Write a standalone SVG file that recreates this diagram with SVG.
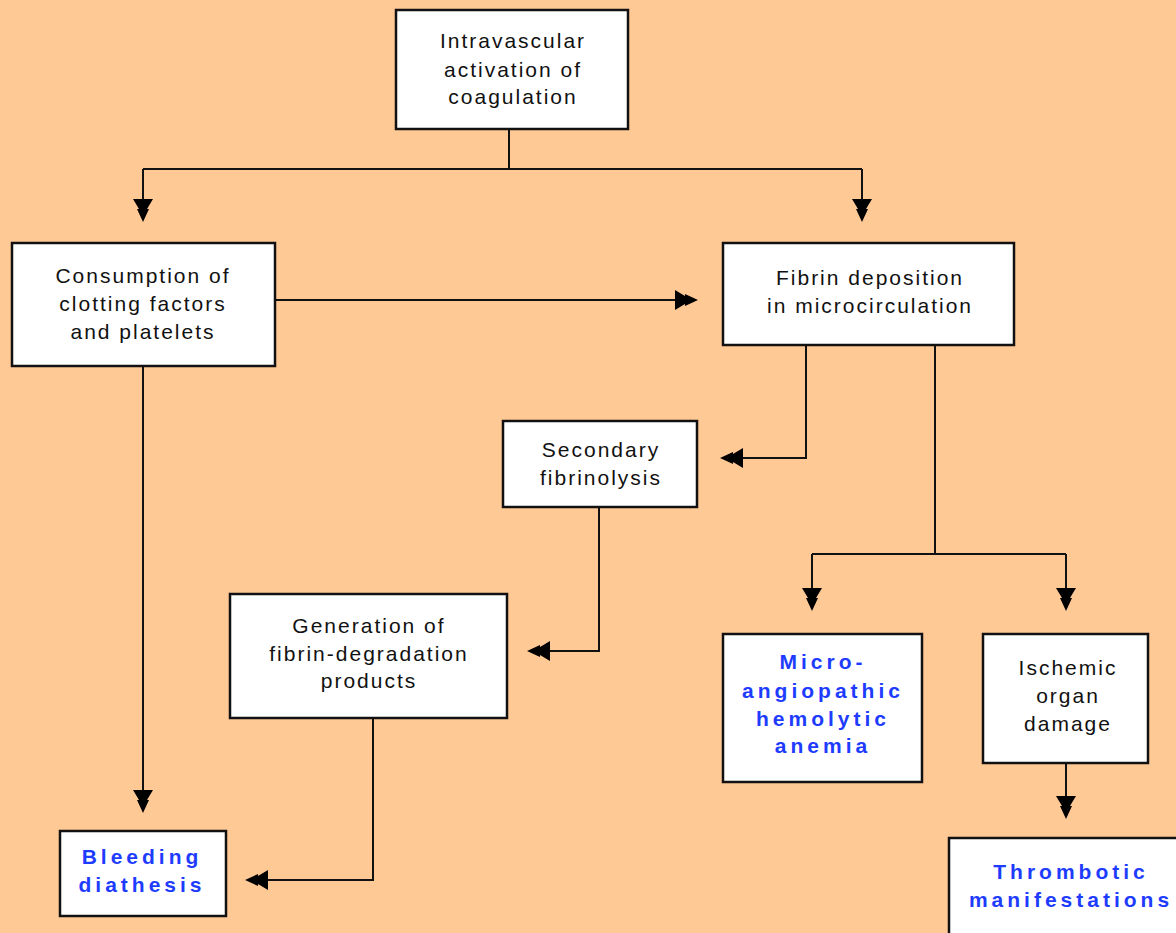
<svg xmlns="http://www.w3.org/2000/svg" width="1176" height="933" viewBox="0 0 1176 933">
<style>
.bg{fill:#FFC996}
.box{fill:#fff;stroke:#111;stroke-width:2.5}
.t{font-family:"Liberation Sans",Arial,sans-serif;font-size:21px;fill:#111;text-anchor:middle;letter-spacing:2px}
.b{font-family:"Liberation Sans",Arial,sans-serif;font-size:21px;font-weight:bold;fill:#1E3CFF;text-anchor:middle;letter-spacing:4px}
.c{fill:none;stroke:#111;stroke-width:2;marker-end:url(#ah)}
.l{fill:none;stroke:#111;stroke-width:2}
</style>
<defs>
<marker id="ah" markerUnits="userSpaceOnUse" viewBox="-22 -11 28 22" refX="0" refY="0" markerWidth="28" markerHeight="22" orient="auto">
<path d="M4,0 L-9,-6 L-9,-4 L-19,-10 L-19,10 L-9,4 L-9,6 Z" fill="#000"/>
</marker>
</defs>
<rect class="bg" x="0" y="0" width="1176" height="933"/>
<g id="connectors">
<path class="l" d="M509,129 V169 M143,169 H862"/>
<path class="c" d="M143,169 V218"/>
<path class="c" d="M862,169 V218"/>
<path class="c" d="M275,300 H694"/>
<path class="c" d="M806,345 V458 H724"/>
<path class="c" d="M599,507 V651 H531"/>
<path class="c" d="M373,718 V880 H249"/>
<path class="c" d="M143,366 V809"/>
<path class="l" d="M935,345 V554 M812,554 H1066"/>
<path class="c" d="M812,554 V607"/>
<path class="c" d="M1066,554 V607"/>
<path class="c" d="M1066,763 V815"/>
</g>
<g id="n1">
<rect class="box" x="396" y="10" width="232" height="119"/>
<text class="t" x="513" y="48">Intravascular</text>
<text class="t" x="513" y="77">activation of</text>
<text class="t" x="513" y="104">coagulation</text>
</g>
<g id="n2">
<rect class="box" x="12" y="243" width="263" height="123"/>
<text class="t" x="143" y="283">Consumption of</text>
<text class="t" x="143" y="311">clotting factors</text>
<text class="t" x="143" y="339">and platelets</text>
</g>
<g id="n3">
<rect class="box" x="723" y="243" width="291" height="102"/>
<text class="t" x="870" y="285">Fibrin deposition</text>
<text class="t" x="870" y="313">in microcirculation</text>
</g>
<g id="n4">
<rect class="box" x="503" y="421" width="194" height="86"/>
<text class="t" x="601" y="457">Secondary</text>
<text class="t" x="601" y="485">fibrinolysis</text>
</g>
<g id="n5">
<rect class="box" x="230" y="594" width="277" height="124"/>
<text class="t" x="369" y="633">Generation of</text>
<text class="t" x="369" y="661">fibrin-degradation</text>
<text class="t" x="369" y="688">products</text>
</g>
<g id="n6">
<rect class="box" x="723" y="634" width="199" height="148"/>
<text class="b" x="823" y="669">Micro-</text>
<text class="b" x="823" y="698">angiopathic</text>
<text class="b" x="823" y="726">hemolytic</text>
<text class="b" x="823" y="753">anemia</text>
</g>
<g id="n7">
<rect class="box" x="983" y="634" width="165" height="129"/>
<text class="t" x="1068" y="675">Ischemic</text>
<text class="t" x="1068" y="703">organ</text>
<text class="t" x="1068" y="731">damage</text>
</g>
<g id="n8">
<rect class="box" x="60" y="831" width="166" height="85"/>
<text class="b" x="142" y="864">Bleeding</text>
<text class="b" x="142" y="892">diathesis</text>
</g>
<g id="n9">
<rect class="box" x="949" y="838" width="240" height="110"/>
<text class="b" x="1071" y="879">Thrombotic</text>
<text class="b" x="1071" y="907">manifestations</text>
</g>
</svg>
